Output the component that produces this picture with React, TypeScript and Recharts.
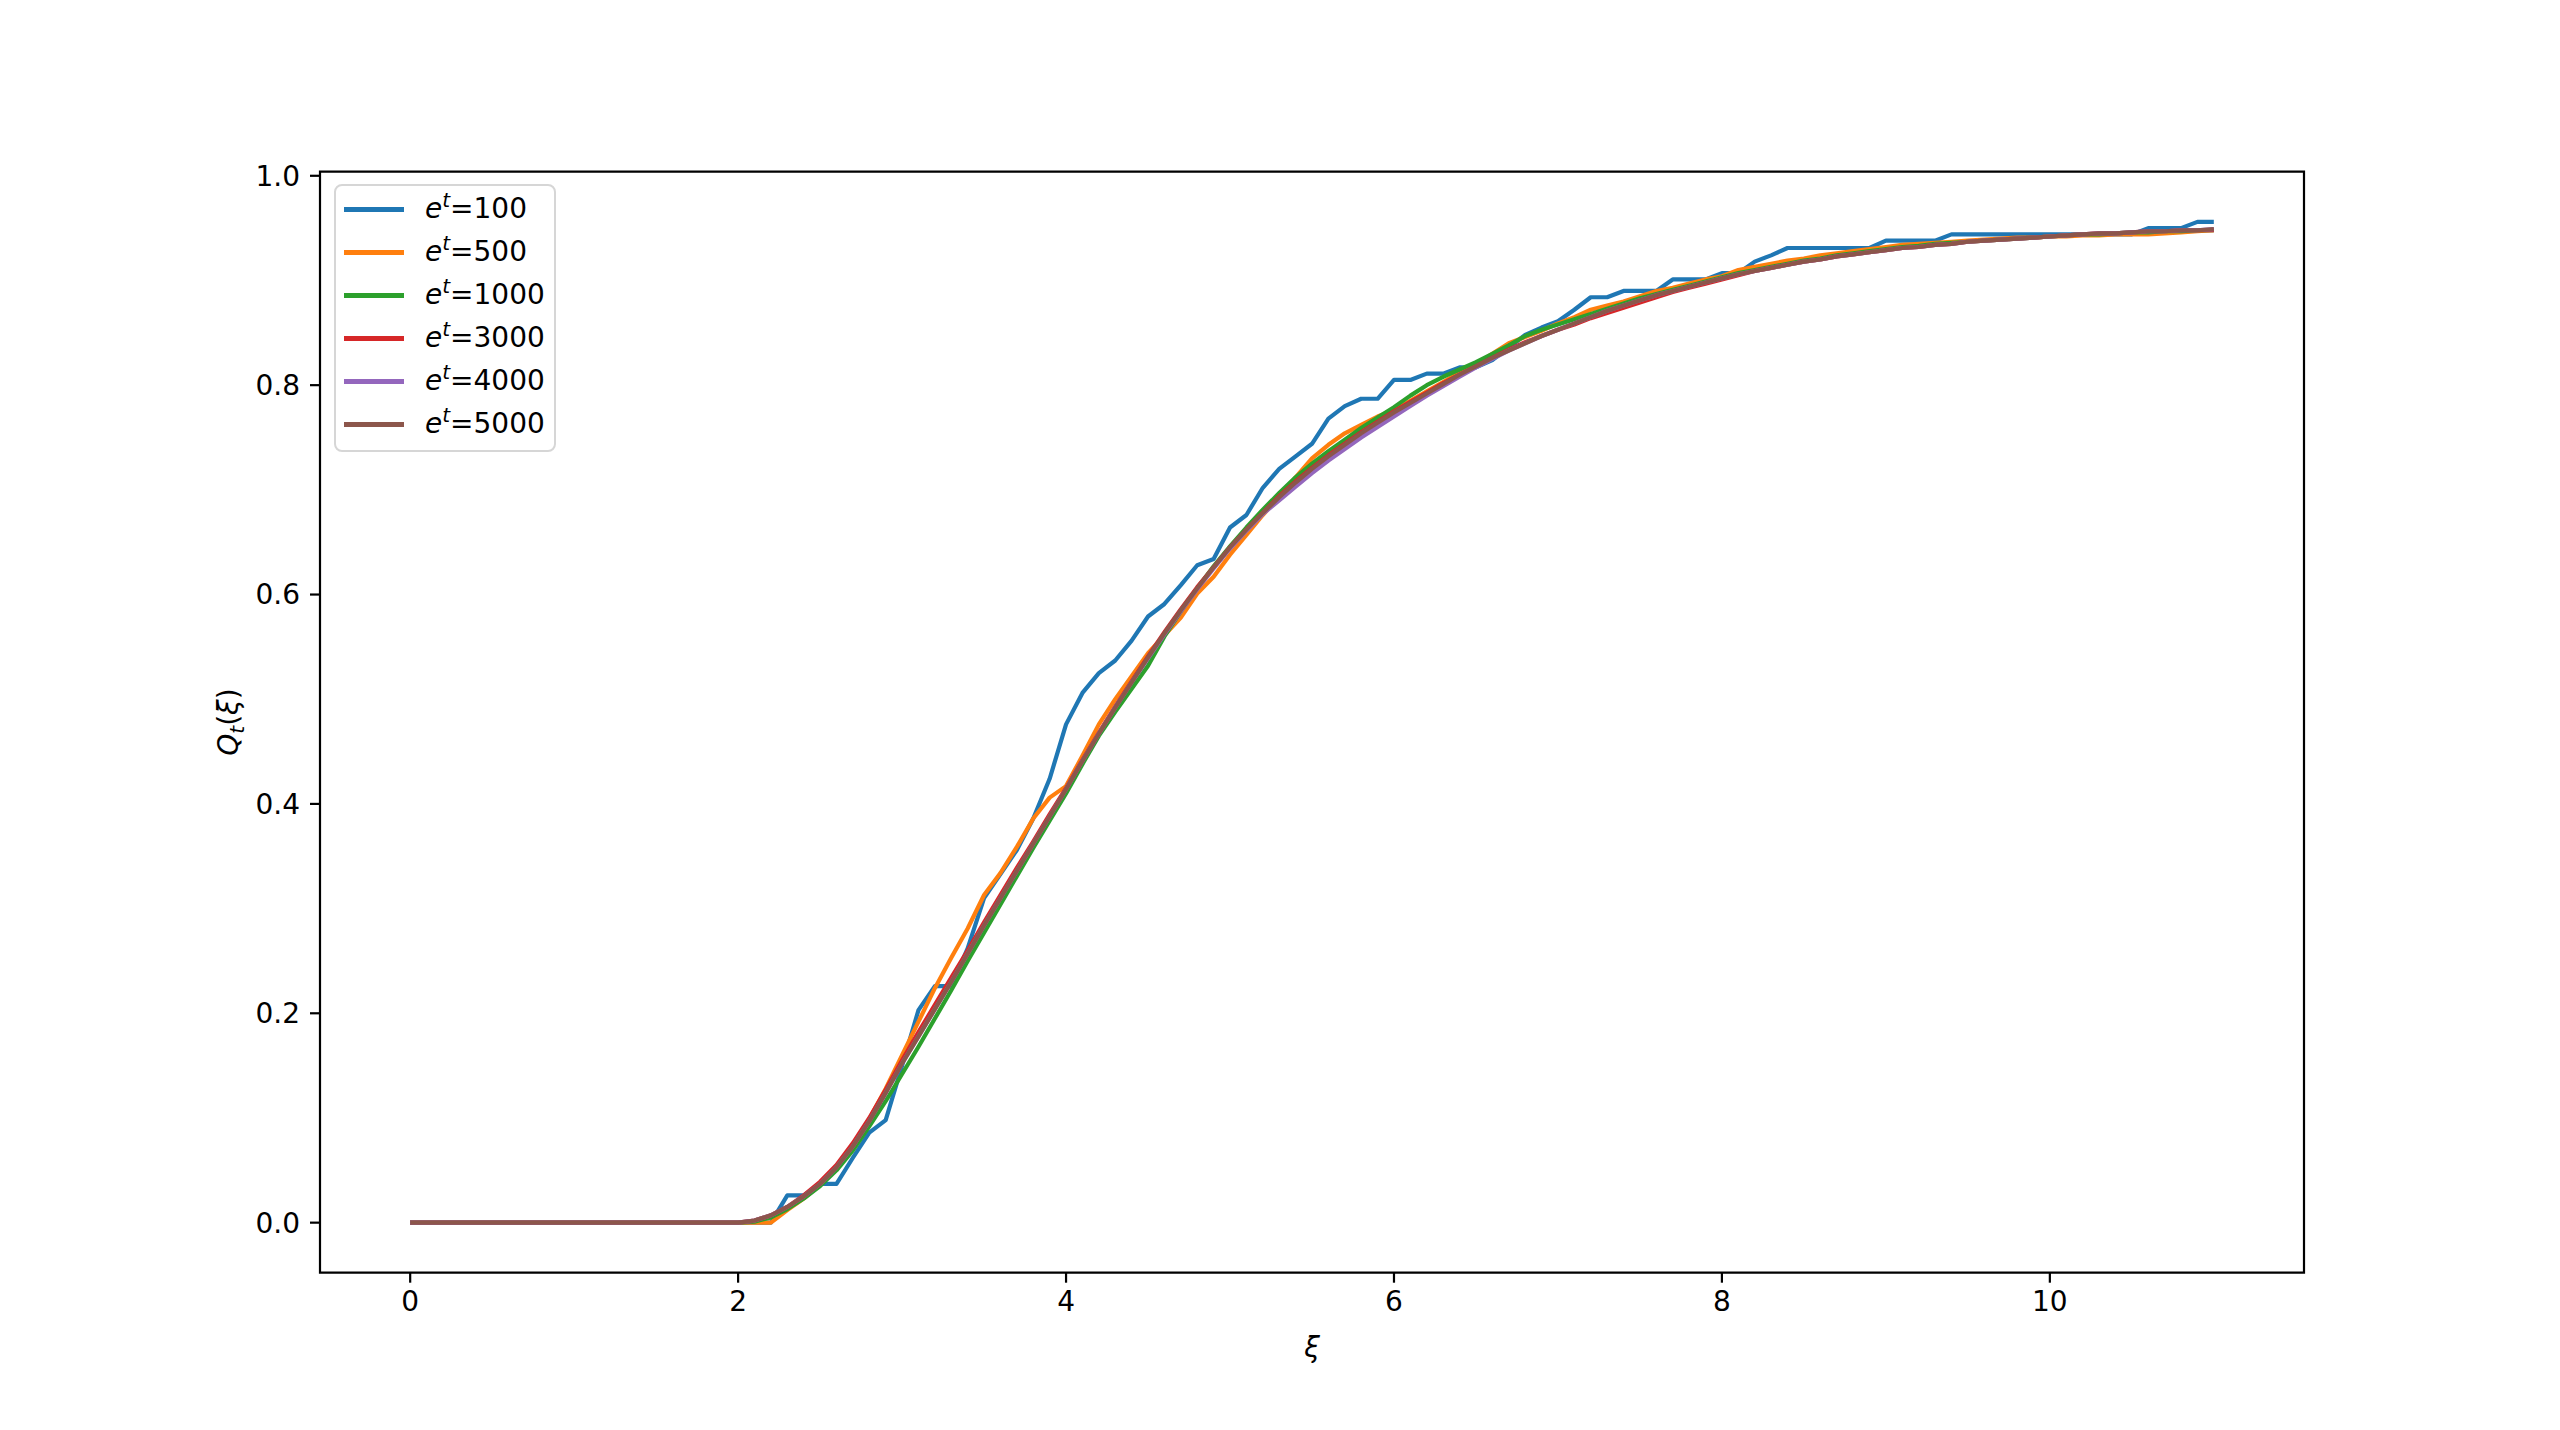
import { LineChart, Line, XAxis, YAxis, ReferenceArea, Legend, Label } from "recharts";

const XI = [
    0, 0.1, 0.2, 0.3, 0.4, 0.5, 0.6, 0.7, 0.8, 0.9,
    1, 1.1, 1.2, 1.3, 1.4, 1.5, 1.6, 1.7, 1.8, 1.9,
    2, 2.1, 2.2, 2.3, 2.4, 2.5, 2.6, 2.7, 2.8, 2.9,
    3, 3.1, 3.2, 3.3, 3.4, 3.5, 3.6, 3.7, 3.8, 3.9,
    4, 4.1, 4.2, 4.3, 4.4, 4.5, 4.6, 4.7, 4.8, 4.9,
    5, 5.1, 5.2, 5.3, 5.4, 5.5, 5.6, 5.7, 5.8, 5.9,
    6, 6.1, 6.2, 6.3, 6.4, 6.5, 6.6, 6.7, 6.8, 6.9,
    7, 7.1, 7.2, 7.3, 7.4, 7.5, 7.6, 7.7, 7.8, 7.9,
    8, 8.1, 8.2, 8.3, 8.4, 8.5, 8.6, 8.7, 8.8, 8.9,
    9, 9.1, 9.2, 9.3, 9.4, 9.5, 9.6, 9.7, 9.8, 9.9,
    10, 10.1, 10.2, 10.3, 10.4, 10.5, 10.6, 10.7, 10.8, 10.9,
    11,
]

// e^t = 100
const Q100 = [
    0, 0, 0, 0, 0, 0, 0, 0, 0, 0,
    0, 0, 0, 0, 0, 0, 0, 0, 0, 0,
    0, 0, 0, 0.026, 0.026, 0.037, 0.037, 0.062, 0.086, 0.098,
    0.150, 0.203, 0.226, 0.226, 0.262, 0.310, 0.333, 0.356, 0.386, 0.424,
    0.476, 0.506, 0.525, 0.537, 0.556, 0.579, 0.591, 0.609, 0.628, 0.634,
    0.664, 0.676, 0.702, 0.720, 0.732, 0.744, 0.768, 0.780, 0.787, 0.787,
    0.805, 0.805, 0.811, 0.811, 0.817, 0.817, 0.824, 0.836, 0.848, 0.855,
    0.861, 0.872, 0.884, 0.884, 0.890, 0.890, 0.890, 0.901, 0.901, 0.901,
    0.907, 0.907, 0.918, 0.924, 0.931, 0.931, 0.931, 0.931, 0.931, 0.931,
    0.938, 0.938, 0.938, 0.938, 0.944, 0.944, 0.944, 0.944, 0.944, 0.944,
    0.944, 0.944, 0.944, 0.944, 0.944, 0.944, 0.950, 0.950, 0.950, 0.956,
    0.956,
]

// e^t = 500
const Q500 = [
    0, 0, 0, 0, 0, 0, 0, 0, 0, 0,
    0, 0, 0, 0, 0, 0, 0, 0, 0, 0,
    0, 0, 0, 0.012, 0.023, 0.036, 0.052, 0.073, 0.099, 0.128,
    0.160, 0.192, 0.224, 0.253, 0.281, 0.313, 0.334, 0.359, 0.386, 0.406,
    0.417, 0.446, 0.476, 0.500, 0.522, 0.544, 0.561, 0.578, 0.601, 0.617,
    0.638, 0.657, 0.676, 0.693, 0.712, 0.730, 0.743, 0.754, 0.762, 0.770,
    0.776, 0.785, 0.794, 0.803, 0.812, 0.820, 0.830, 0.840, 0.846, 0.852,
    0.859, 0.865, 0.872, 0.876, 0.880, 0.885, 0.890, 0.893, 0.897, 0.901,
    0.904, 0.910, 0.913, 0.916, 0.919, 0.921, 0.924, 0.926, 0.928, 0.930,
    0.932, 0.934, 0.935, 0.936, 0.937, 0.938, 0.939, 0.940, 0.941, 0.941,
    0.942, 0.942, 0.943, 0.943, 0.944, 0.944, 0.944, 0.945, 0.946, 0.947,
    0.948,
]

// e^t = 1000
const Q1000 = [
    0, 0, 0, 0, 0, 0, 0, 0, 0, 0,
    0, 0, 0, 0, 0, 0, 0, 0, 0, 0,
    0, 0.001, 0.005, 0.013, 0.023, 0.035, 0.050, 0.069, 0.092, 0.116,
    0.142, 0.168, 0.195, 0.222, 0.250, 0.277, 0.304, 0.331, 0.358, 0.384,
    0.410, 0.438, 0.465, 0.488, 0.510, 0.532, 0.560, 0.584, 0.606, 0.627,
    0.646, 0.664, 0.681, 0.697, 0.712, 0.725, 0.737, 0.748, 0.759, 0.769,
    0.779, 0.790, 0.800, 0.808, 0.815, 0.822, 0.830, 0.838, 0.847, 0.853,
    0.858, 0.863, 0.868, 0.873, 0.878, 0.883, 0.887, 0.891, 0.895, 0.899,
    0.903, 0.907, 0.910, 0.913, 0.916, 0.919, 0.921, 0.924, 0.926, 0.928,
    0.930, 0.932, 0.933, 0.935, 0.936, 0.937, 0.938, 0.939, 0.940, 0.941,
    0.942, 0.943, 0.944, 0.944, 0.945, 0.946, 0.946, 0.947, 0.947, 0.948,
    0.948,
]

// e^t = 3000
const Q3000 = [
    0, 0, 0, 0, 0, 0, 0, 0, 0, 0,
    0, 0, 0, 0, 0, 0, 0, 0, 0, 0,
    0, 0.002, 0.007, 0.015, 0.026, 0.039, 0.055, 0.076, 0.100, 0.127,
    0.155, 0.182, 0.208, 0.234, 0.260, 0.287, 0.313, 0.339, 0.364, 0.390,
    0.415, 0.442, 0.468, 0.493, 0.517, 0.541, 0.564, 0.586, 0.607, 0.626,
    0.645, 0.662, 0.678, 0.694, 0.708, 0.721, 0.733, 0.744, 0.755, 0.765,
    0.775, 0.784, 0.793, 0.802, 0.810, 0.818, 0.826, 0.834, 0.841, 0.847,
    0.853, 0.858, 0.864, 0.869, 0.874, 0.879, 0.884, 0.889, 0.893, 0.897,
    0.901, 0.905, 0.909, 0.912, 0.915, 0.918, 0.920, 0.923, 0.925, 0.927,
    0.929, 0.931, 0.932, 0.934, 0.935, 0.937, 0.938, 0.939, 0.940, 0.941,
    0.942, 0.943, 0.944, 0.945, 0.945, 0.946, 0.947, 0.947, 0.948, 0.948,
    0.948,
]

// e^t = 4000
const Q4000 = [
    0, 0, 0, 0, 0, 0, 0, 0, 0, 0,
    0, 0, 0, 0, 0, 0, 0, 0, 0, 0,
    0, 0.002, 0.007, 0.015, 0.025, 0.037, 0.053, 0.073, 0.097, 0.124,
    0.152, 0.178, 0.204, 0.230, 0.257, 0.284, 0.310, 0.336, 0.362, 0.388,
    0.414, 0.441, 0.467, 0.492, 0.516, 0.539, 0.562, 0.584, 0.605, 0.625,
    0.644, 0.661, 0.677, 0.690, 0.703, 0.716, 0.728, 0.739, 0.750, 0.760,
    0.770, 0.780, 0.790, 0.799, 0.808, 0.817, 0.825, 0.833, 0.840, 0.847,
    0.853, 0.859, 0.865, 0.871, 0.876, 0.881, 0.886, 0.890, 0.894, 0.898,
    0.902, 0.906, 0.909, 0.912, 0.915, 0.918, 0.920, 0.923, 0.925, 0.927,
    0.929, 0.931, 0.932, 0.934, 0.935, 0.937, 0.938, 0.939, 0.940, 0.941,
    0.942, 0.943, 0.944, 0.945, 0.945, 0.946, 0.947, 0.947, 0.948, 0.948,
    0.949,
]

// e^t = 5000
const Q5000 = [
    0, 0, 0, 0, 0, 0, 0, 0, 0, 0,
    0, 0, 0, 0, 0, 0, 0, 0, 0, 0,
    0, 0.002, 0.007, 0.015, 0.025, 0.037, 0.053, 0.073, 0.097, 0.124,
    0.152, 0.178, 0.204, 0.230, 0.257, 0.284, 0.310, 0.336, 0.362, 0.388,
    0.414, 0.441, 0.467, 0.492, 0.516, 0.540, 0.563, 0.585, 0.606, 0.626,
    0.645, 0.662, 0.678, 0.693, 0.707, 0.720, 0.732, 0.743, 0.754, 0.764,
    0.774, 0.783, 0.792, 0.801, 0.810, 0.818, 0.826, 0.833, 0.840, 0.847,
    0.853, 0.859, 0.865, 0.871, 0.876, 0.881, 0.886, 0.890, 0.894, 0.898,
    0.902, 0.906, 0.909, 0.912, 0.915, 0.918, 0.920, 0.923, 0.925, 0.927,
    0.929, 0.931, 0.932, 0.934, 0.935, 0.937, 0.938, 0.939, 0.940, 0.941,
    0.942, 0.943, 0.944, 0.945, 0.945, 0.946, 0.947, 0.947, 0.948, 0.948,
    0.949,
]

const X_TICKS = [0, 2, 4, 6, 8, 10]
const Y_TICKS = [0, 0.2, 0.4, 0.6, 0.8, 1.0]

const SERIES = [
    { key: "e100", num: "100", color: "#1f77b4", values: Q100 },
    { key: "e500", num: "500", color: "#ff7f0e", values: Q500 },
    { key: "e1000", num: "1000", color: "#2ca02c", values: Q1000 },
    { key: "e3000", num: "3000", color: "#d62728", values: Q3000 },
    { key: "e4000", num: "4000", color: "#9467bd", values: Q4000 },
    { key: "e5000", num: "5000", color: "#8c564b", values: Q5000 },
]

const FONT = "'DejaVu Sans', sans-serif"

const rows = XI.map((xi, i) => {
    const row: Record<string, number> = { xi }
    SERIES.forEach(s => { row[s.key] = s.values[i] })
    return row
})

function LegendBox() {
    return (
        <div style={{
            boxSizing: 'border-box', width: 222, height: 268, padding: '2px 0 0 8px',
            border: '2.5px solid #d6d6d6', borderRadius: 8, background: 'rgba(255,255,255,0.8)',
            fontFamily: FONT, fontSize: 28, color: '#000',
        }}>
            {SERIES.map(s => (
                <div key={s.key} style={{ display: 'flex', alignItems: 'center', height: 43 }}>
                    <span style={{ display: 'inline-block', width: 60, height: 4.2, background: s.color }}></span>
                    <span style={{ marginLeft: 21, whiteSpace: 'nowrap', lineHeight: '43px' }}>
                        <i>e</i><i style={{ fontSize: 20, position: 'relative', top: -11 }}>t</i>={s.num}
                    </span>
                </div>
            ))}
        </div>
    )
}

export default function App() {
    return (
        <div style={{ position: 'absolute', left: 0, top: 0, width: 2560, height: 1430, background: '#fff', fontFamily: FONT }}>
            <LineChart width={2560} height={1430} data={rows}
                margin={{ top: 171.6, right: 256, bottom: 47.3, left: 200 }}>
                <XAxis dataKey="xi" type="number" domain={[-0.55, 11.55]} allowDataOverflow
                    ticks={X_TICKS} height={110} axisLine={false}
                    tickSize={10} tickMargin={8}
                    tickLine={{ stroke: '#000', strokeWidth: 2.2 }}
                    tick={{ fill: '#000', fontSize: 28, fontFamily: FONT }}>
                    <Label content={() => (
                        <text x={1312} y={1357} textAnchor="middle" fontFamily={FONT} fontSize={28} fontStyle="italic" fill="#000">ξ</text>
                    )} />
                </XAxis>
                <YAxis type="number" domain={[-0.0478, 1.004]} allowDataOverflow
                    ticks={Y_TICKS} width={120} axisLine={false}
                    tickSize={10} tickMargin={10}
                    tickFormatter={(v: number) => v.toFixed(1)}
                    tickLine={{ stroke: '#000', strokeWidth: 2.2 }}
                    tick={{ fill: '#000', fontSize: 28, fontFamily: FONT }}>
                    <Label content={() => (
                        <text x={238} y={722} textAnchor="middle" fontFamily={FONT} fontSize={28} fill="#000"
                            transform="rotate(-90, 238, 722)">
                            <tspan fontStyle="italic">Q</tspan>
                            <tspan fontStyle="italic" fontSize={20} dy={6}>t</tspan>
                            <tspan dy={-6}>(</tspan>
                            <tspan fontStyle="italic">ξ</tspan>
                            <tspan>)</tspan>
                        </text>
                    )} />
                </YAxis>
                {SERIES.map(s => (
                    <Line key={s.key} dataKey={s.key} type="linear" stroke={s.color} strokeWidth={4.2}
                        strokeLinejoin="round" dot={false} activeDot={false} isAnimationActive={false} />
                ))}
                <ReferenceArea x1={-0.55} x2={11.55} y1={-0.0478} y2={1.004}
                    fill="none" stroke="#000" strokeWidth={2.2} ifOverflow="visible" />
                <Legend layout="vertical" align="center" verticalAlign="middle"
                    wrapperStyle={{ position: 'absolute', left: 334, top: 184, width: 'auto', height: 'auto' }}
                    content={() => <LegendBox />} />
            </LineChart>
        </div>
    )
}
